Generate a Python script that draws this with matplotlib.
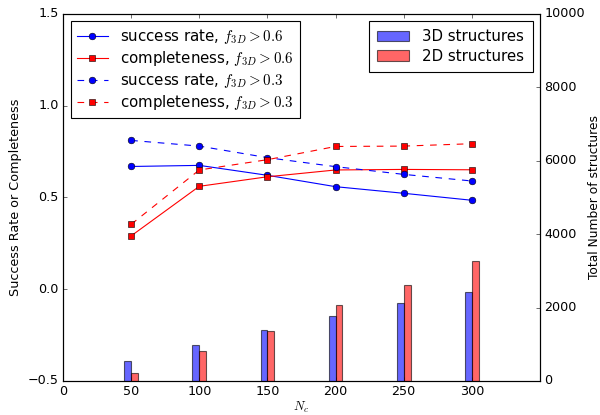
import matplotlib
matplotlib.use("Agg")
import matplotlib.pyplot as plt
import numpy as np

plt.style.use("classic")

nc = [50, 100, 150, 200, 250, 300]
success_06 = [0.668, 0.674, 0.620, 0.558, 0.522, 0.484]
complete_06 = [0.290, 0.560, 0.612, 0.649, 0.652, 0.650]
success_03 = [0.810, 0.779, 0.716, 0.667, 0.625, 0.589]
complete_03 = [0.353, 0.649, 0.705, 0.777, 0.779, 0.792]
n3d = [535, 970, 1386, 1766, 2111, 2418]
n2d = [209, 807, 1367, 2057, 2617, 3253]

fig = plt.figure(figsize=(7.5, 5.1875), dpi=80)
ax1 = fig.add_axes([0.105, 0.082, 0.795, 0.885])
ax1.plot(nc, success_06, "b-o", label=r"success rate, $f_{3D}>0.6$")
ax1.plot(nc, complete_06, "r-s", label=r"completeness, $f_{3D}>0.6$")
ax1.plot(nc, success_03, "b--o", label=r"success rate, $f_{3D}>0.3$")
ax1.plot(nc, complete_03, "r--s", label=r"completeness, $f_{3D}>0.3$")
ax1.set_xlim(0, 350)
ax1.set_ylim(-0.5, 1.5)
ax1.set_yticks([-0.5, 0.0, 0.5, 1.0, 1.5])
ax1.set_xticks([0, 50, 100, 150, 200, 250, 300])
ax1.set_xlabel(r"$N_c$", fontsize=11.5, labelpad=1)
ax1.set_ylabel("Success Rate or Completeness", fontsize=11.5)
ax1.tick_params(labelsize=11.5)
ax1.legend(loc="upper left", fontsize=13.5, numpoints=1, handlelength=2.1,
           labelspacing=0.2, borderaxespad=0.5)

ax2 = ax1.twinx()
ax2.bar(np.array(nc) - 5, n3d, width=5, align="edge", color="b", alpha=0.6, label="3D structures")
ax2.bar(np.array(nc), n2d, width=5, align="edge", color="r", alpha=0.6, label="2D structures")
ax2.set_ylim(0, 10000)
ax2.set_xlim(0, 350)
ax2.set_ylabel("Total Number of structures", fontsize=11, labelpad=3)
ax2.tick_params(labelsize=11.5)
ax2.legend(loc="upper right", fontsize=13.5, handlelength=2.1, labelspacing=0.3,
           borderaxespad=0.5, borderpad=0.55, handletextpad=0.9)

fig.savefig("out.png", dpi=80)
